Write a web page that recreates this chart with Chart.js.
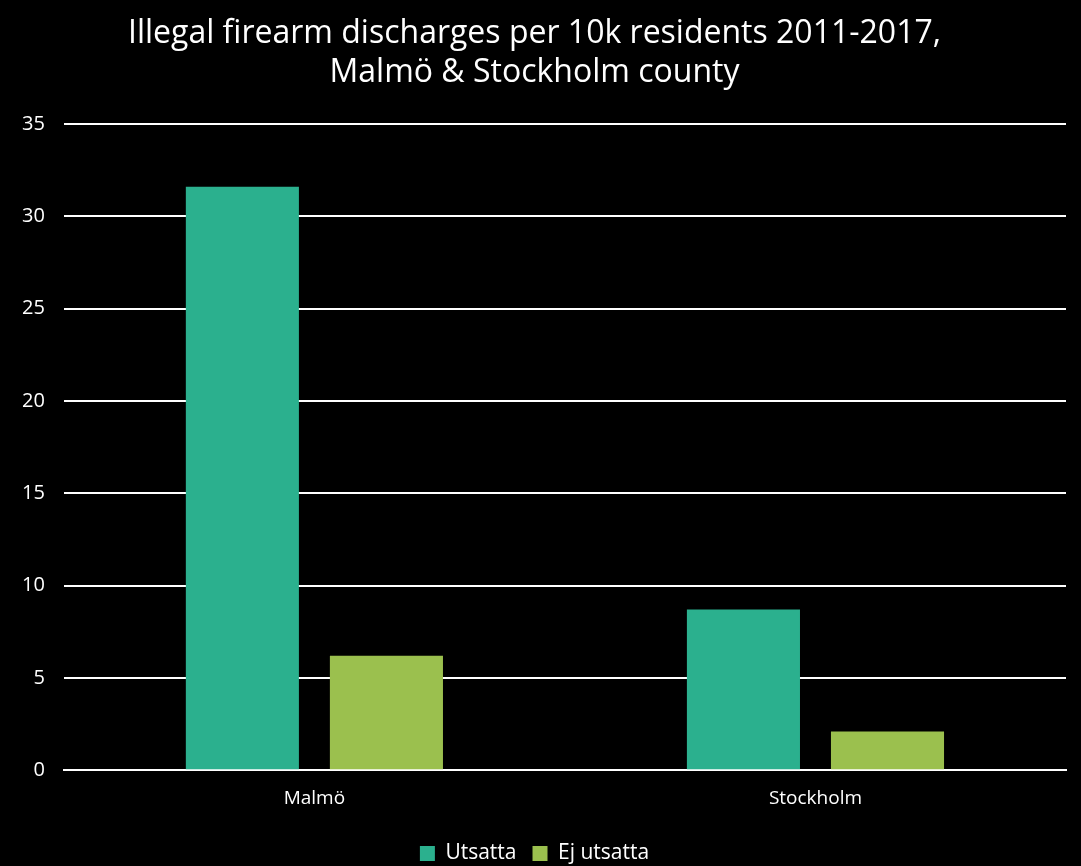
<!DOCTYPE html>
<html>
<head>
<meta charset="utf-8">
<script src="https://cdn.jsdelivr.net/npm/chart.js@4"></script>
<style>
  html, body { margin: 0; padding: 0; background: #000; }
  #wrap { width: 1081px; height: 866px; }
</style>
</head>
<body>
<div id="wrap"><canvas id="chart"></canvas></div>
<script>
// Values
const categories = ['Malmö', 'Stockholm'];
const utsatta = [31.6, 8.7];
const ejUtsatta = [6.2, 2.1];
const seriesNames = ['Utsatta', 'Ej utsatta'];
const titleLines = ['Illegal firearm discharges per 10k residents 2011-2017,', 'Malmö & Stockholm county'];

const FONT = '"Open Sans", "Liberation Sans", sans-serif';

new Chart(document.getElementById('chart'), {
  type: 'bar',
  data: {
    labels: categories,
    datasets: [
      { label: seriesNames[0], data: utsatta, backgroundColor: '#2bb08e' },
      { label: seriesNames[1], data: ejUtsatta, backgroundColor: '#9bc04e' }
    ]
  },
  options: {
    responsive: true,
    maintainAspectRatio: false,
    animation: false,
    categoryPercentage: 0.575,
    barPercentage: 0.785,
    layout: { padding: { left: 3, right: 15, top: 0, bottom: -8 } },
    plugins: {
      title: {
        display: true,
        text: titleLines,
        color: '#fff',
        font: { family: FONT, size: 32, weight: 'normal', lineHeight: 1.22 },
        padding: { top: 14, bottom: 32 }
      },
      legend: {
        position: 'bottom',
        labels: {
          color: '#fff',
          font: { family: FONT, size: 21, lineHeight: 1 },
          boxWidth: 15,
          boxHeight: 15,
          padding: 16
        }
      },
      tooltip: { enabled: false }
    },
    scales: {
      x: {
        grid: { display: false, drawTicks: false },
        border: { color: '#fff', width: 2 },
        ticks: { color: '#fff', font: { family: FONT, size: 19 }, padding: 17 }
      },
      y: {
        min: 0,
        max: 35,
        ticks: { stepSize: 5, color: '#fff', font: { family: FONT, size: 20 }, padding: 19 },
        grid: { color: '#fff', lineWidth: 2, drawTicks: false },
        border: { display: false }
      }
    }
  }
});
</script>
</body>
</html>
